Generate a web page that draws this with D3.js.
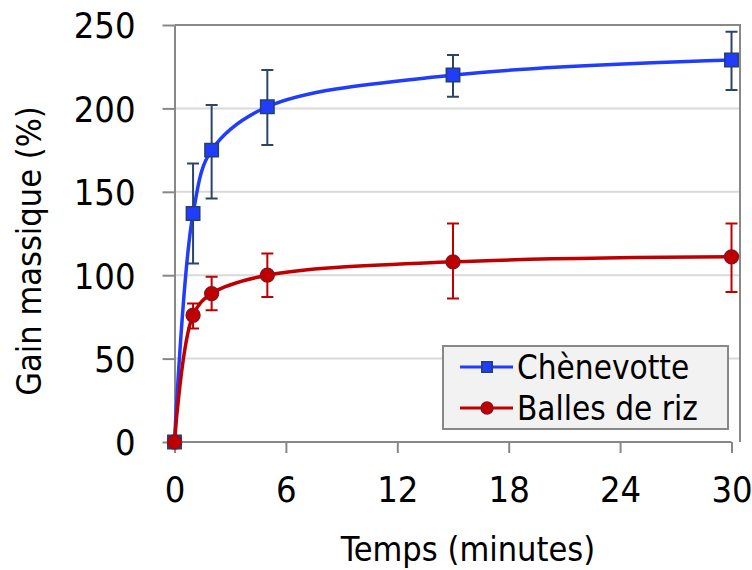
<!DOCTYPE html>
<html>
<head>
<meta charset="utf-8">
<script src="https://cdn.jsdelivr.net/npm/d3@7"></script>
<style>
  body { margin: 0; background: #fff; }
  text { font-family: "DejaVu Sans Condensed", "DejaVu Sans", sans-serif; fill: #000; }
</style>
</head>
<body>
<div id="chart"></div>
<script>
// data
const times = [0, 1, 2, 5, 15, 30];
const chenevotte = [0, 137, 175, 201, 220, 229];
const chenevotteLow = [0, 107, 146, 178, 207, 211];
const chenevotteHigh = [0, 167, 202, 223, 232, 246];
const balles = [0, 76, 89, 100, 108, 111];
const ballesLow = [0, 68, 79, 87, 86, 90];
const ballesHigh = [0, 83, 99, 113, 131, 131];
const xTicks = [0, 6, 12, 18, 24, 30];
const yTicks = [0, 50, 100, 150, 200, 250];

const series = [
    { name: "Chènevotte", values: chenevotte, low: chenevotteLow, high: chenevotteHigh,
      line: "#1f3cff", fill: "#1f3cff", stroke: "#25406a", err: "#2b4566", marker: "square" },
    { name: "Balles de riz", values: balles, low: ballesLow, high: ballesHigh,
      line: "#c00000", fill: "#c00000", stroke: "#8c1020", err: "#c00000", marker: "circle" },
];

const width = 752, height = 570;
const plot = { left: 174.5, right: 740, top: 25, bottom: 442 };

const svg = d3.select("#chart")
    .append("svg")
    .attr("width", width)
    .attr("height", height);

const x = d3.scaleLinear().domain([0, 30]).range([plot.left, 731.5]);
const y = d3.scaleLinear().domain([0, 250]).range([plot.bottom, plot.top]);

// gridlines
svg.append("g")
    .selectAll("line")
    .data(yTicks.filter((d) => d > 0 && d < 250))
    .enter()
    .append("line")
    .attr("x1", plot.left).attr("x2", plot.right)
    .attr("y1", (d) => y(d)).attr("y2", (d) => y(d))
    .style("stroke", "#d9d9d9")
    .style("stroke-width", 2);

// frame (top and right)
svg.append("path")
    .attr("d", `M${plot.left},${plot.top}H${plot.right}V${plot.bottom}`)
    .style("fill", "none")
    .style("stroke", "#888")
    .style("stroke-width", 2);

// axes
const xAxis = svg.append("g")
    .attr("transform", `translate(0,${plot.bottom})`)
    .call(d3.axisBottom(x).tickValues(xTicks).tickSize(11).tickSizeOuter(0));
const yAxis = svg.append("g")
    .attr("transform", `translate(${plot.left},0)`)
    .call(d3.axisLeft(y).tickValues(yTicks).tickSize(12).tickPadding(27).tickSizeOuter(0));

[xAxis, yAxis].forEach((g) => {
    g.select(".domain").style("stroke", "#888").style("stroke-width", 2);
    g.selectAll(".tick line").style("stroke", "#888").style("stroke-width", 2);
    g.selectAll("text")
        .style("font-family", "'DejaVu Sans Condensed', 'DejaVu Sans', sans-serif")
        .style("font-size", "36px")
        .style("fill", "#000");
});
xAxis.select(".domain").attr("d", `M${plot.left},0H${x(30)}`);
xAxis.selectAll("text").attr("y", 60).attr("dy", null);
yAxis.selectAll("text").attr("dy", "0.36em");

// axis titles
svg.append("text")
    .attr("x", 468)
    .attr("y", 561)
    .attr("text-anchor", "middle")
    .style("font-size", "34px")
    .text("Temps (minutes)");

svg.append("text")
    .attr("transform", `translate(41,251) rotate(-90)`)
    .attr("text-anchor", "middle")
    .style("font-size", "34px")
    .text("Gain massique (%)");

const line = d3.line()
    .x((d) => x(d[0]))
    .y((d) => y(d[1]))
    .curve(d3.curveCatmullRom.alpha(0.5));

series.forEach((s) => {
    const pts = times.map((t, i) => [t, s.values[i]]);
    const g = svg.append("g");

    g.append("path")
        .datum(pts)
        .attr("d", line)
        .style("fill", "none")
        .style("stroke", s.line)
        .style("stroke-width", 3.5);

    // error bars
    g.selectAll(".err")
        .data(times.map((t, i) => ({ t, lo: s.low[i], hi: s.high[i] })).filter((d) => d.hi > d.lo))
        .enter()
        .append("path")
        .attr("d", (d) => {
            const cx = x(d.t), y0 = y(d.lo), y1 = y(d.hi);
            return `M${cx},${y0}V${y1}M${cx - 6},${y0}H${cx + 6}M${cx - 6},${y1}H${cx + 6}`;
        })
        .style("fill", "none")
        .style("stroke", s.err)
        .style("stroke-width", 2);

    // markers
    g.selectAll(".mk")
        .data(pts)
        .enter()
        .append("path")
        .attr("transform", (d) => `translate(${x(d[0])},${y(d[1])})`)
        .attr("d", s.marker === "square"
            ? d3.symbol().type(d3.symbolSquare).size(180)
            : d3.symbol().type(d3.symbolCircle).size(150))
        .style("fill", s.fill)
        .style("stroke", s.stroke)
        .style("stroke-width", 1.5);
});

// legend
const legend = svg.append("g");
legend.append("rect")
    .attr("x", 443).attr("y", 346)
    .attr("width", 285).attr("height", 83)
    .style("fill", "#f2f2f2")
    .style("stroke", "#888")
    .style("stroke-width", 2);

series.forEach((s, i) => {
    const cy = 367 + i * 41;
    legend.append("line")
        .attr("x1", 460).attr("x2", 513)
        .attr("y1", cy).attr("y2", cy)
        .style("stroke", s.line)
        .style("stroke-width", 3);
    legend.append("path")
        .attr("transform", `translate(487,${cy})`)
        .attr("d", s.marker === "square"
            ? d3.symbol().type(d3.symbolSquare).size(110)
            : d3.symbol().type(d3.symbolCircle).size(110))
        .style("fill", s.fill)
        .style("stroke", s.stroke)
        .style("stroke-width", 1.5);
    legend.append("text")
        .attr("x", 517)
        .attr("y", cy)
        .attr("dy", "0.36em")
        .style("font-size", "33px")
        .text(s.name);
});
</script>
</body>
</html>
